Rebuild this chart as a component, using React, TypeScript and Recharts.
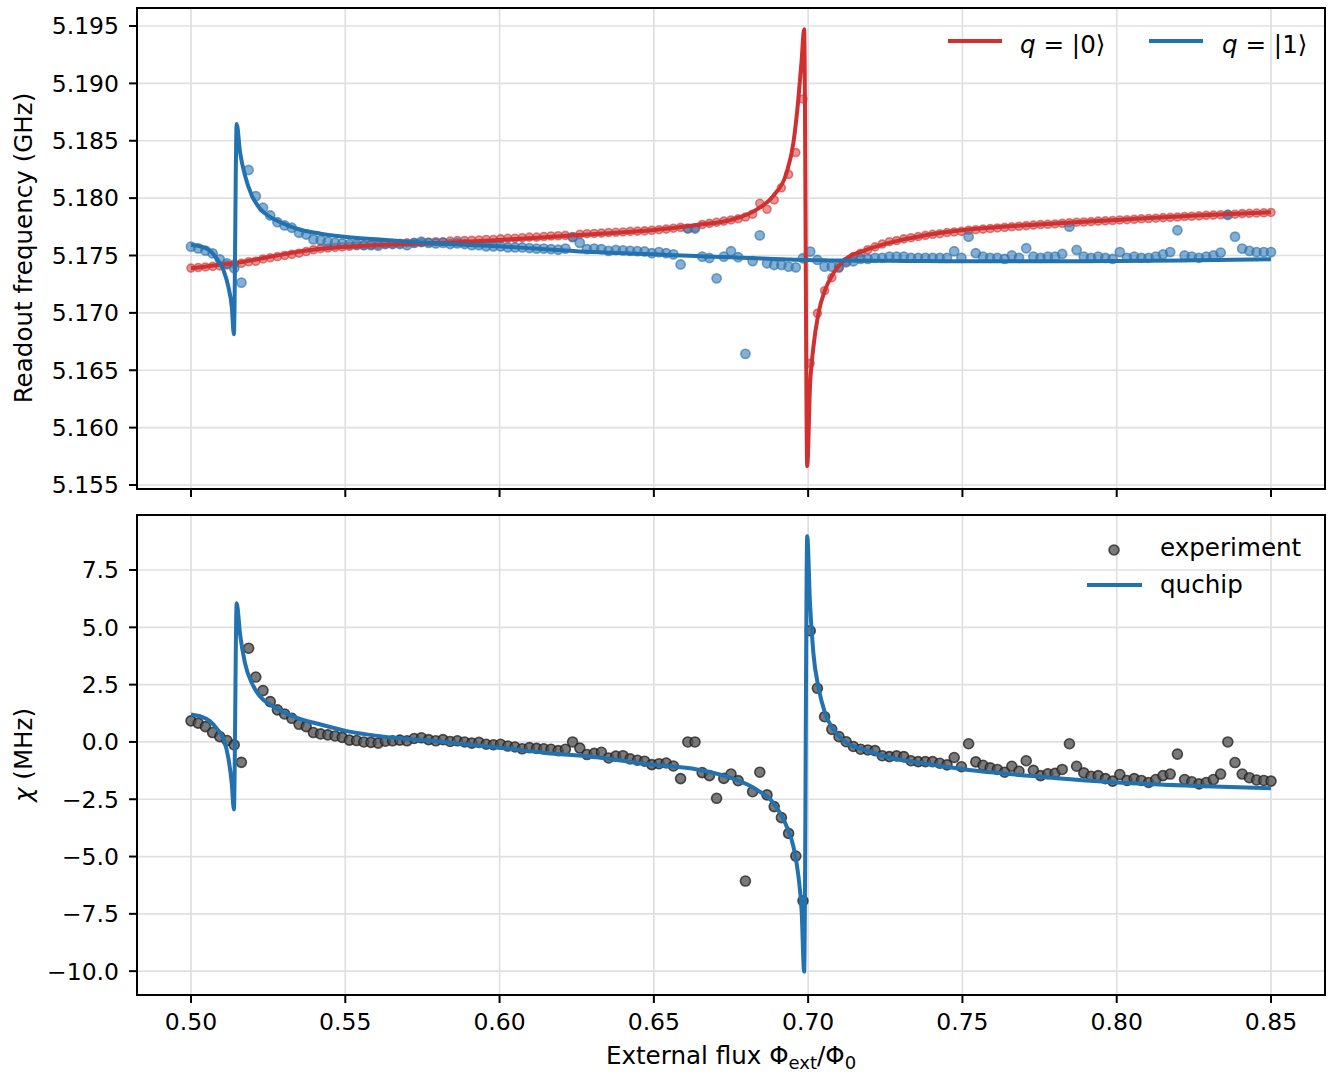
import React from "react";
import {
  CartesianGrid,
  ComposedChart,
  Line,
  ReferenceArea,
  Scatter,
  XAxis,
  YAxis,
} from "recharts";

const FONT = "'DejaVu Sans', 'Liberation Sans', sans-serif";
const RED = "#d03030";
const BLUE = "#2272b0";
const GREY = "#555555";
const GRID = "#e0e0e0";
const FS = 23.5;
const LABEL_FS = 24.6;

// measured flux points (shared by the three scatter series)
const flux = [
  0.5, 0.50233, 0.50467, 0.507, 0.50933, 0.51167, 0.514, 0.51633, 0.51867, 0.521,
  0.52333, 0.52567, 0.528, 0.53033, 0.53267, 0.535, 0.53733, 0.53967, 0.542, 0.54433,
  0.54667, 0.549, 0.55133, 0.55367, 0.556, 0.55833, 0.56067, 0.563, 0.56533, 0.56767,
  0.57, 0.57233, 0.57467, 0.577, 0.57933, 0.58167, 0.584, 0.58633, 0.58867, 0.591,
  0.59333, 0.59567, 0.598, 0.60033, 0.60267, 0.605, 0.60733, 0.60967, 0.612, 0.61433,
  0.61667, 0.619, 0.62133, 0.62367, 0.626, 0.62833, 0.63067, 0.633, 0.63533, 0.63767,
  0.64, 0.64233, 0.64467, 0.647, 0.64933, 0.65167, 0.654, 0.65633, 0.65867, 0.661,
  0.66333, 0.66567, 0.668, 0.67033, 0.67267, 0.675, 0.67733, 0.67967, 0.682, 0.68433,
  0.68667, 0.689, 0.69133, 0.69367, 0.696, 0.69833, 0.70067, 0.703, 0.70533, 0.70767,
  0.71, 0.71233, 0.71467, 0.717, 0.71933, 0.72167, 0.724, 0.72633, 0.72867, 0.731,
  0.73333, 0.73567, 0.738, 0.74033, 0.74267, 0.745, 0.74733, 0.74967, 0.752, 0.75433,
  0.75667, 0.759, 0.76133, 0.76367, 0.766, 0.76833, 0.77067, 0.773, 0.77533, 0.77767,
  0.78, 0.78233, 0.78467, 0.787, 0.78933, 0.79167, 0.794, 0.79633, 0.79867, 0.801,
  0.80333, 0.80567, 0.808, 0.81033, 0.81267, 0.815, 0.81733, 0.81967, 0.822, 0.82433,
  0.82667, 0.829, 0.83133, 0.83367, 0.836, 0.83833, 0.84067, 0.843, 0.84533, 0.84767,
  0.85,
];

// readout frequency with qubit in |0> (GHz)
const freq0 = [
  5.1739, 5.17395, 5.174, 5.17405, 5.1741, 5.17418, 5.17425, 5.17432, 5.17445, 5.1745,
  5.1747, 5.1748, 5.1749, 5.175, 5.1751, 5.1752, 5.17535, 5.1755, 5.1756, 5.17565,
  5.1757, 5.17575, 5.1758, 5.17585, 5.17588, 5.1759, 5.17595, 5.176, 5.176, 5.17605,
  5.1761, 5.1761, 5.17612, 5.17615, 5.1762, 5.1762, 5.17625, 5.1763, 5.1763, 5.17632,
  5.17635, 5.1764, 5.1764, 5.17645, 5.1765, 5.1765, 5.17655, 5.1766, 5.1766, 5.17665,
  5.1767, 5.17672, 5.17675, 5.1766, 5.17685, 5.1769, 5.17692, 5.17695, 5.177, 5.17702,
  5.17705, 5.1771, 5.17712, 5.17715, 5.1772, 5.17725, 5.1773, 5.17738, 5.17745, 5.17735,
  5.1774, 5.1777, 5.1778, 5.1779, 5.178, 5.1781, 5.1782, 5.17835, 5.1786, 5.17955,
  5.17903, 5.17984, 5.1809, 5.18207, 5.18397, 5.18864, 5.1656, 5.16996, 5.17193, 5.17307,
  5.17388, 5.17445, 5.1749, 5.1752, 5.1755, 5.17575, 5.176, 5.1762, 5.1763, 5.17645,
  5.17655, 5.17665, 5.17675, 5.17685, 5.1769, 5.177, 5.17705, 5.1771, 5.1772, 5.17725,
  5.1773, 5.17735, 5.1774, 5.17745, 5.1775, 5.17755, 5.1776, 5.17765, 5.1777, 5.17772,
  5.17775, 5.1778, 5.17785, 5.1779, 5.17792, 5.17795, 5.178, 5.17802, 5.17805, 5.1781,
  5.17812, 5.17815, 5.1782, 5.17822, 5.17825, 5.1783, 5.17832, 5.17835, 5.1784, 5.17842,
  5.17845, 5.1785, 5.17852, 5.17855, 5.17858, 5.1786, 5.17865, 5.17868, 5.1787, 5.17872,
  5.17875,
];

// readout frequency with qubit in |1> (GHz)
const freq1 = [
  5.17577, 5.17562, 5.17542, 5.17519, 5.17467, 5.17432, 5.17389, 5.17264, 5.18245, 5.18017,
  5.17916, 5.17849, 5.1779, 5.17762, 5.17742, 5.17698, 5.17683, 5.1764, 5.17634, 5.1762,
  5.1761, 5.17605, 5.176, 5.17598, 5.1759, 5.1759, 5.17585, 5.176, 5.176, 5.176,
  5.1759, 5.1761, 5.1762, 5.1761, 5.17605, 5.1761, 5.176, 5.17605, 5.176, 5.1759,
  5.1759, 5.1758, 5.1758, 5.1758, 5.1757, 5.1757, 5.1757, 5.17565, 5.1756, 5.1756,
  5.17555, 5.1755, 5.1756, 5.1766, 5.1761, 5.17555, 5.1756, 5.17555, 5.1754, 5.17548,
  5.17545, 5.1754, 5.17538, 5.17535, 5.1752, 5.1753, 5.1752, 5.1751, 5.17422, 5.17735,
  5.17735, 5.1749, 5.17478, 5.17301, 5.1749, 5.17537, 5.17485, 5.16643, 5.17451, 5.17675,
  5.17432, 5.17417, 5.17417, 5.17403, 5.17397, 5.17476, 5.17534, 5.17461, 5.17403, 5.17403,
  5.17403, 5.17441, 5.1745, 5.1747, 5.1747, 5.1748, 5.1748, 5.1749, 5.1749, 5.1749,
  5.1748, 5.1748, 5.1748, 5.1748, 5.1748, 5.1748, 5.17537, 5.1748, 5.17664, 5.1752,
  5.1749, 5.1748, 5.1748, 5.1747, 5.175, 5.1748, 5.17563, 5.1749, 5.1748, 5.1749,
  5.1749, 5.17513, 5.17751, 5.17548, 5.1749, 5.1748, 5.1749, 5.1748, 5.1747, 5.1753,
  5.1748, 5.1749, 5.1748, 5.1748, 5.1749, 5.1751, 5.1753, 5.1772, 5.175, 5.1749,
  5.1748, 5.1749, 5.175, 5.17525, 5.17853, 5.17664, 5.1756, 5.1754, 5.1753, 5.1753,
  5.1753,
];

// dispersive shift (MHz)
const chiMeasured = [
  0.92, 0.82, 0.67, 0.41, 0.23, 0.06, -0.13, -0.89, 4.09, 2.83,
  2.24, 1.76, 1.4, 1.22, 1.03, 0.77, 0.67, 0.41, 0.35, 0.31,
  0.26, 0.2, 0.08, 0.06, 0.0, -0.02, -0.05, 0.03, 0.05, 0.08,
  0.05, 0.15, 0.18, 0.1, 0.05, 0.1, 0.02, 0.05, 0.0, -0.05,
  -0.02, -0.1, -0.12, -0.1, -0.18, -0.22, -0.3, -0.25, -0.28, -0.3,
  -0.32, -0.38, -0.32, 0.0, -0.27, -0.55, -0.5, -0.45, -0.7, -0.62,
  -0.6, -0.74, -0.8, -0.84, -0.99, -0.95, -0.92, -1.05, -1.6, 0.0,
  0.0, -1.34, -1.47, -2.46, -1.59, -1.4, -1.69, -6.07, -2.17, -1.32,
  -2.31, -2.82, -3.3, -3.99, -4.98, -6.93, 4.85, 2.34, 1.1, 0.55,
  0.23, 0.01, -0.2, -0.32, -0.35, -0.38, -0.6, -0.64, -0.61, -0.64,
  -0.82, -0.86, -0.86, -0.86, -0.93, -1.0, -0.68, -1.08, -0.08, -0.87,
  -1.02, -1.13, -1.2, -1.32, -1.06, -1.28, -0.82, -1.24, -1.47, -1.39,
  -1.37, -1.2, -0.08, -1.06, -1.35, -1.5, -1.47, -1.6, -1.71, -1.42,
  -1.68, -1.6, -1.68, -1.77, -1.64, -1.47, -1.4, -0.53, -1.64, -1.74,
  -1.83, -1.77, -1.64, -1.4, 0.0, -0.9, -1.4, -1.56, -1.66, -1.68,
  -1.71,
];

// quchip simulation, denser near the two avoided crossings
const fluxSim = [
  0.5, 0.503, 0.506, 0.5085, 0.5105, 0.5121, 0.5132, 0.5139, 0.5148, 0.5159,
  0.5175, 0.5197, 0.5224, 0.526, 0.53, 0.5343, 0.542, 0.5505, 0.5612, 0.5829,
  0.6, 0.615, 0.63, 0.65, 0.664, 0.675, 0.6833, 0.6887, 0.693, 0.6952,
  0.6968, 0.6979, 0.6987, 0.6997, 0.7006, 0.7017, 0.7033, 0.7055, 0.7082, 0.7125,
  0.7179, 0.7265, 0.738, 0.7503, 0.7773, 0.8, 0.8259, 0.85,
];

const freq0Sim = [
  5.17388, 5.17398, 5.17408, 5.17416, 5.17422, 5.17427, 5.1743, 5.17432, 5.17436, 5.1744,
  5.17447, 5.17458, 5.17472, 5.1749, 5.1751, 5.1753, 5.17558, 5.17577, 5.17592, 5.17612,
  5.17635, 5.1766, 5.17685, 5.17722, 5.17766, 5.1781, 5.179, 5.1802, 5.18221, 5.18478,
  5.18855, 5.19204, 5.19471, 5.15665, 5.16356, 5.167, 5.1699, 5.172, 5.17345, 5.17476,
  5.1754, 5.17612, 5.17677, 5.17722, 5.17775, 5.1781, 5.17849, 5.17876,
];

const freq1Sim = [
  5.17592, 5.1758, 5.17545, 5.17466, 5.17374, 5.17228, 5.17054, 5.16813, 5.18646, 5.184,
  5.18197, 5.18023, 5.17907, 5.1783, 5.17778, 5.17733, 5.1769, 5.17662, 5.17639, 5.176,
  5.1758, 5.17555, 5.1753, 5.1751, 5.17495, 5.17484, 5.17476, 5.1747, 5.17466, 5.17464,
  5.17462, 5.17461, 5.17461, 5.1746, 5.1746, 5.17459, 5.17459, 5.17458, 5.17457, 5.17456,
  5.17455, 5.17454, 5.17452, 5.1745, 5.1745, 5.17451, 5.17458, 5.17467,
];

const chiSim = [
  1.2, 1.12, 0.92, 0.56, 0.15, -0.7, -1.79, -2.95, 6.05, 4.7,
  3.44, 2.57, 1.98, 1.6, 1.3, 1.05, 0.76, 0.47, 0.25, -0.01,
  -0.25, -0.48, -0.65, -1.0, -1.2, -1.57, -2.08, -2.66, -3.68, -4.55,
  -5.8, -7.4, -10.02, 8.97, 6.06, 3.87, 2.41, 1.25, 0.54, -0.04,
  -0.33, -0.69, -0.95, -1.19, -1.54, -1.77, -1.92, -2.02,
];

const fluxTicks = [0.5, 0.55, 0.6, 0.65, 0.7, 0.75, 0.8, 0.85];
const freqTicks = [5.155, 5.16, 5.165, 5.17, 5.175, 5.18, 5.185, 5.19, 5.195];
const chiTicks = [-10, -7.5, -5, -2.5, 0, 2.5, 5, 7.5];

const fluxDomain: [number, number] = [0.4825, 0.8675];
const freqDomain: [number, number] = [5.15465, 5.19657];
const chiDomain: [number, number] = [-11.04, 9.9];

function pairs(xs: number[], ys: number[]) {
  return xs.map((x, i) => ({ x, y: ys[i] }));
}

function dotShape(r: number, color: string, edge: string, opacity: number) {
  return (props: any) => {
    if (props.cx == null || props.cy == null) return <g />;
    return (
      <circle
        cx={props.cx}
        cy={props.cy}
        r={r}
        fill={color}
        fillOpacity={opacity}
        stroke={edge}
        strokeOpacity={opacity}
        strokeWidth={1.6}
      />
    );
  };
}

const tickStyle = { fill: "#000", fontSize: FS, fontFamily: FONT };
const tickLineStyle = { stroke: "#000", strokeWidth: 2 };
const minus = (s: string) => s.replace("-", "\u2212");

const W = 1332;
const MARGIN = { top: 8, right: 7, bottom: 0, left: 0 };

interface PanelProps {
  height: number;
  xAxisHeight: number;
  yDomain: [number, number];
  yTicks: number[];
  yFormat: (v: number) => string;
  xLabels: boolean;
  // "marks" draws axes, grid and scatter; "lines" is a bare overlay drawn on top
  layer: "marks" | "lines";
  children: React.ReactNode;
}

function Panel({ height, xAxisHeight, yDomain, yTicks, yFormat, xLabels, layer, children }: PanelProps) {
  const bare = layer === "lines";
  return (
    <ComposedChart width={W} height={height} margin={MARGIN}>
      {!bare && <CartesianGrid stroke={GRID} strokeWidth={1.7} />}
      <XAxis
        type="number"
        dataKey="x"
        domain={fluxDomain}
        ticks={fluxTicks}
        allowDataOverflow
        height={xAxisHeight}
        tickSize={8}
        tickMargin={10}
        tickLine={bare ? false : tickLineStyle}
        axisLine={false}
        tick={bare ? false : tickStyle}
        tickFormatter={(v: number) => (xLabels ? v.toFixed(2) : "")}
      />
      <YAxis
        type="number"
        dataKey="y"
        domain={yDomain}
        ticks={yTicks}
        allowDataOverflow
        width={137}
        tickSize={8}
        tickMargin={10}
        tickLine={bare ? false : tickLineStyle}
        axisLine={false}
        tick={bare ? false : tickStyle}
        tickFormatter={yFormat}
      />
      {children}
      {bare && (
        <ReferenceArea
          x1={fluxDomain[0]}
          x2={fluxDomain[1]}
          y1={yDomain[0]}
          y2={yDomain[1]}
          fill="none"
          fillOpacity={0}
          stroke="#000"
          strokeWidth={2}
          strokeOpacity={1}
        />
      )}
    </ComposedChart>
  );
}

function simLine(xs: number[], ys: number[], color: string) {
  return (
    <Line
      data={pairs(xs, ys)}
      dataKey="y"
      type="monotone"
      stroke={color}
      strokeWidth={4}
      dot={false}
      activeDot={false}
      isAnimationActive={false}
    />
  );
}

function FreqPanel({ layer }: { layer: "marks" | "lines" }) {
  return (
    <Panel
      height={499}
      xAxisHeight={10}
      yDomain={freqDomain}
      yTicks={freqTicks}
      yFormat={(v) => v.toFixed(3)}
      xLabels={false}
      layer={layer}
    >
      {layer === "marks" && (
        <Scatter data={pairs(flux, freq0)} dataKey="y" isAnimationActive={false} shape={dotShape(4, "#d84a4a", "#c83a3a", 0.6)} />
      )}
      {layer === "marks" && (
        <Scatter data={pairs(flux, freq1)} dataKey="y" isAnimationActive={false} shape={dotShape(4.6, "#3a7fba", "#2a6ea8", 0.62)} />
      )}
      {layer === "lines" && simLine(fluxSim, freq0Sim, RED)}
      {layer === "lines" && simLine(fluxSim, freq1Sim, BLUE)}
    </Panel>
  );
}

function ChiPanel({ layer }: { layer: "marks" | "lines" }) {
  return (
    <Panel
      height={573}
      xAxisHeight={85}
      yDomain={chiDomain}
      yTicks={chiTicks}
      yFormat={(v) => minus(v.toFixed(1))}
      xLabels
      layer={layer}
    >
      {layer === "marks" && (
        <Scatter data={pairs(flux, chiMeasured)} dataKey="y" isAnimationActive={false} shape={dotShape(5, GREY, "#222222", 0.78)} />
      )}
      {layer === "lines" && simLine(fluxSim, chiSim, BLUE)}
    </Panel>
  );
}

function Labels() {
  const text = { fontFamily: FONT, fontSize: LABEL_FS, fill: "#000" };
  return (
    <svg width={W} height={1080} style={{ position: "absolute", left: 0, top: 0, pointerEvents: "none" }}>
      <text {...text} transform="translate(23,248) rotate(-90)" textAnchor="middle" dominantBaseline="central">
        Readout frequency (GHz)
      </text>
      <text {...text} transform="translate(23,755) rotate(-90)" textAnchor="middle" dominantBaseline="central">
        <tspan fontStyle="italic">χ</tspan> (MHz)
      </text>
      <text {...text} x={731} y={1064} textAnchor="middle">
        External flux Φ<tspan fontSize={18} dy={5}>ext</tspan>
        <tspan dy={-5}>/Φ</tspan>
        <tspan fontSize={18} dy={5}>0</tspan>
      </text>

      <line x1={948} x2={1002} y1={41} y2={41} stroke={RED} strokeWidth={4} />
      <text {...text} x={1020} y={44} dominantBaseline="central">
        <tspan fontStyle="italic">q</tspan> = |0⟩
      </text>
      <line x1={1149} x2={1203} y1={41} y2={41} stroke={BLUE} strokeWidth={4} />
      <text {...text} x={1222} y={44} dominantBaseline="central">
        <tspan fontStyle="italic">q</tspan> = |1⟩
      </text>

      <circle cx={1114} cy={550} r={5} fill={GREY} fillOpacity={0.78} stroke="#222" strokeOpacity={0.78} strokeWidth={1.6} />
      <text {...text} x={1160} y={547} dominantBaseline="central">
        experiment
      </text>
      <line x1={1087} x2={1142} y1={585} y2={585} stroke={BLUE} strokeWidth={4} />
      <text {...text} x={1160} y={584} dominantBaseline="central">
        quchip
      </text>
    </svg>
  );
}

const layerStyle = (top: number): React.CSSProperties => ({ position: "absolute", left: 0, top });

export default function App() {
  return (
    <div style={{ position: "absolute", left: 0, top: 0, width: W, height: 1080, background: "#fff", fontFamily: FONT }}>
      <div style={layerStyle(0)}>
        <FreqPanel layer="marks" />
      </div>
      <div style={layerStyle(0)}>
        <FreqPanel layer="lines" />
      </div>
      <div style={layerStyle(507)}>
        <ChiPanel layer="marks" />
      </div>
      <div style={layerStyle(507)}>
        <ChiPanel layer="lines" />
      </div>
      <Labels />
    </div>
  );
}
